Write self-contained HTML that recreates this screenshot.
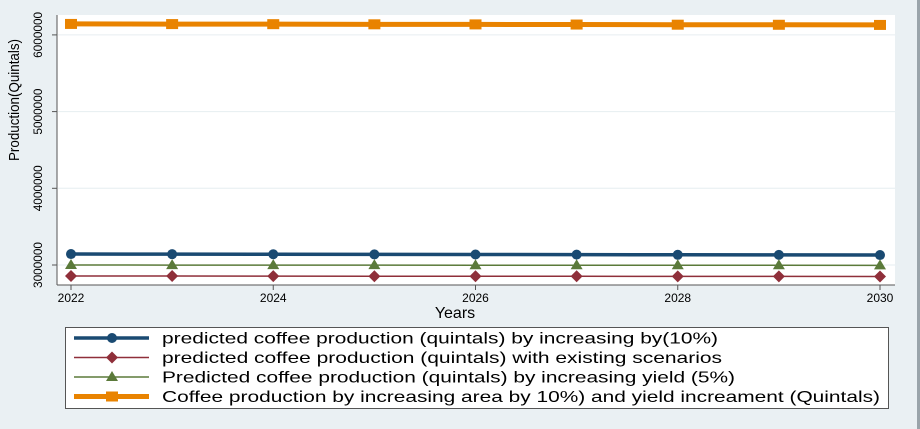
<!DOCTYPE html>
<html><head><meta charset="utf-8"><style>
body{margin:0;background:#eaf0f3;font-family:"Liberation Sans",sans-serif;}
svg{display:block}
</style></head><body>
<svg width="920" height="429" id="c">
<rect x="0" y="0" width="917" height="429" fill="#eaf0f3"/>
<rect x="917" y="0" width="3" height="429" fill="#9aa4aa"/>
<rect x="57" y="15" width="838" height="270" fill="#fff"/>
<g id="grid"></g>
<line x1="57" y1="15" x2="57" y2="285" stroke="#555"/>
<line x1="57" y1="285" x2="895" y2="285" stroke="#555"/>
<g id="yt"></g><g id="xt"></g><g id="series"></g>
<text x="19" y="100" font-size="15" text-anchor="middle" transform="rotate(-90 19 100)" textLength="122" lengthAdjust="spacingAndGlyphs">Production(Quintals)</text>
<text x="455" y="318" font-size="16" text-anchor="middle">Years</text>
<rect x="65.5" y="327.5" width="823" height="81" fill="#fff" stroke="#555"/>
<g id="leg"></g>
</svg>
<script>
const years=[2022,2023,2024,2025,2026,2027,2028,2029,2030];
const xTicks=[2022,2024,2026,2028,2030];
const yTicks=[3000000,4000000,5000000,6000000];
const blue=[3143000,3141000,3140000,3138000,3137000,3135000,3133000,3132000,3130000];
const red=[2857000,2856000,2855000,2854000,2853000,2853000,2852000,2851000,2850000];
const green=[3000000,2999000,2999000,2998000,2997000,2997000,2996000,2996000,2995000];
const orange=[6143000,6141000,6140000,6138000,6137000,6135000,6133000,6132000,6130000];
const labels=["predicted coffee production (quintals) by increasing by(10%)","predicted coffee production (quintals) with existing scenarios","Predicted coffee production (quintals) by increasing yield (5%)","Coffee production by increasing area by 10%) and yield increament (Quintals)"];
const labelLen=[556,560,573,718];
const NS="http://www.w3.org/2000/svg";
const X=v=>71+(v-2022)*(880-71)/8;
const Y=v=>265-(v-3000000)*76.7/1e6;
function mk(t,a,p){const e=document.createElementNS(NS,t);for(const k in a)e.setAttribute(k,a[k]);p.appendChild(e);return e;}
const g=document.getElementById('grid'),yt=document.getElementById('yt'),xt=document.getElementById('xt'),S=document.getElementById('series'),L=document.getElementById('leg');
yTicks.forEach(v=>{const y=Y(v);
const gl=mk('line',{x1:58,x2:895,y1:y,y2:y,stroke:'#e6eef0','stroke-width':1},g);


mk('line',{x1:52,x2:57,y1:y,y2:y,stroke:'#555'},yt);
const t=mk('text',{x:42,y:y,'font-size':12,'text-anchor':'middle',transform:`rotate(-90 42 ${y})`,textLength:46,lengthAdjust:'spacingAndGlyphs'},yt);t.textContent=v;

});
xTicks.forEach(v=>{const x=X(v);
mk('line',{x1:x,x2:x,y1:285,y2:290,stroke:'#555'},xt);
const t=mk('text',{x:x,y:302,'font-size':12,'text-anchor':'middle'},xt);t.textContent=v;

});
function marker(type,x,y,c,p){
 if(type==='circle')return mk('circle',{cx:x,cy:y,r:5,fill:c},p);
 if(type==='diamond')return mk('polygon',{points:`${x},${y-6} ${x+6},${y} ${x},${y+6} ${x-6},${y}`,fill:c},p);
 if(type==='tri')return mk('polygon',{points:`${x},${y-6} ${x+6},${y+4} ${x-6},${y+4}`,fill:c},p);
 return mk('rect',{x:x-6,y:y-5,width:12,height:10,fill:c},p);}
const series=[[blue,'#1a4a72',3.5,'circle','series-blue'],[red,'#8f2f3a',1.5,'diamond','series-red'],[green,'#5b7a3a',1.5,'tri','series-green'],[orange,'#e98300',5,'square','series-orange']];
series.forEach((s,i)=>{const [d,c,w,m,n]=s;
const grp=mk('g',{},S);


mk('polyline',{points:d.map((v,j)=>X(years[j])+','+Y(v)).join(' '),fill:'none',stroke:c,'stroke-width':w},grp);
d.forEach((v,j)=>{const mm=marker(m,X(years[j]),Y(v),c,grp);

});
const ly=338+i*19.5;
const le=mk('g',{},L);


mk('line',{x1:74,x2:149,y1:ly,y2:ly,stroke:c,'stroke-width':w},le);
marker(m,112,ly,c,le);
const t=mk('text',{x:162,y:ly+5.5,'font-size':16,textLength:labelLen[i],lengthAdjust:'spacingAndGlyphs'},le);t.textContent=labels[i];});
</script>
</body></html>
